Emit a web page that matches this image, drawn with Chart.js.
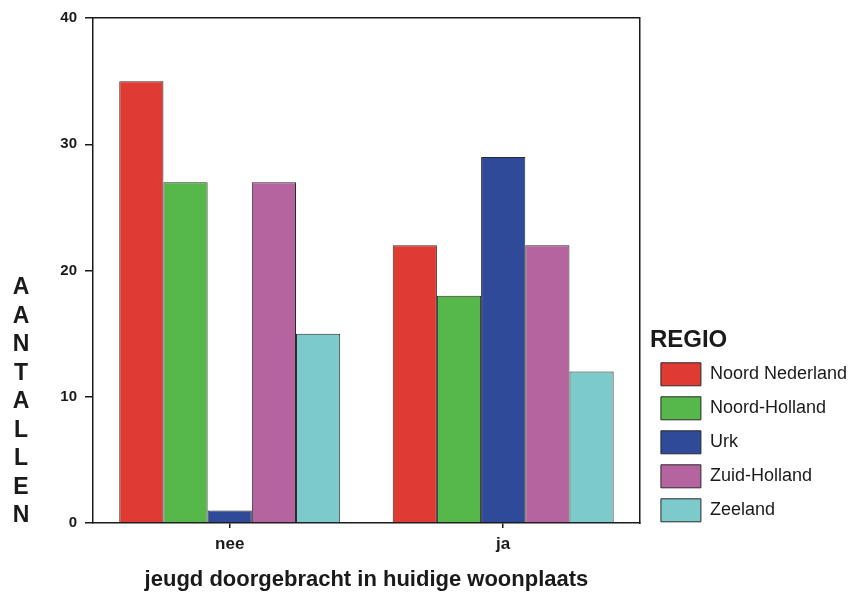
<!DOCTYPE html>
<html>
<head>
<meta charset="utf-8">
<script src="https://cdn.jsdelivr.net/npm/chart.js@4/dist/chart.umd.min.js"></script>
<style>
  html, body { margin: 0; padding: 0; background: #fff; }
  #wrap { width: 849px; height: 596px; position: relative; }
</style>
</head>
<body>
<div id="wrap"><canvas id="chart"></canvas></div>
<script>
  const categories = ['nee', 'ja'];
  const regions = ['Noord Nederland', 'Noord-Holland', 'Urk', 'Zuid-Holland', 'Zeeland'];
  const noordNederland = [35, 22];
  const noordHolland = [27, 18];
  const urk = [1, 29];
  const zuidHolland = [27, 22];
  const zeeland = [15, 12];
  const colors = ['#df3b32', '#56b84a', '#2e4a99', '#b6649f', '#7ccaca'];
  const yTitle = 'AANTALLEN';
  const xTitle = 'jeugd doorgebracht in huidige woonplaats';
  const legendTitle = 'REGIO';

  const FONT = '"Liberation Sans", Arial, sans-serif';
  const INK = '#1a1a1a';

  const series = [noordNederland, noordHolland, urk, zuidHolland, zeeland];
  const datasets = series.map((vals, i) => ({
    label: regions[i],
    data: vals,
    backgroundColor: colors[i],
    borderColor: '#2a2a2a',
    borderWidth: 1,
    categoryPercentage: 0.808,
    barPercentage: 1
  }));

  // stacked letters for the y title
  const stackedTitle = {
    id: 'stackedTitle',
    afterDraw(chart) {
      const ctx = chart.ctx;
      ctx.save();
      ctx.font = 'bold 23px ' + FONT;
      ctx.fillStyle = INK;
      ctx.textAlign = 'center';
      ctx.textBaseline = 'middle';
      [...yTitle].forEach((ch, i) => ctx.fillText(ch, 21, 288 + i * 28.5));
      ctx.restore();
    }
  };

  new Chart(document.getElementById('chart'), {
    type: 'bar',
    data: { labels: categories, datasets },
    options: {
      responsive: true,
      maintainAspectRatio: false,
      animation: false,
      layout: { padding: { top: 18, right: -8, bottom: 0, left: 0 } },
      scales: {
        x: {
          position: 'bottom',
          afterFit: s => { s.height = 73; },
          grid: { display: true, drawOnChartArea: false, offset: false, tickLength: 5, color: INK, lineWidth: 1.5 },
          border: { display: true, color: INK, width: 1.5 },
          ticks: { color: INK, padding: 6, font: { family: FONT, size: 17, weight: 'bold' } },
          title: { display: true, text: xTitle, color: INK, padding: { top: 0, bottom: 3 }, font: { family: FONT, size: 22, weight: 'bold' } }
        },
        x2: {
          position: 'top',
          afterFit: s => { s.height = 0; },
          grid: { display: false },
          border: { display: true, color: INK, width: 1.5 },
          ticks: { display: false }
        },
        y: {
          position: 'left',
          min: 0,
          max: 40,
          afterFit: s => { s.width = 93; },
          grid: { display: true, drawOnChartArea: false, tickLength: 8, color: INK, lineWidth: 1.5 },
          border: { display: true, color: INK, width: 1.5 },
          ticks: { stepSize: 10, color: INK, padding: 8, font: { family: FONT, size: 15, weight: 'bold' } }
        },
        y2: {
          position: 'right',
          min: 0,
          max: 40,
          afterFit: s => { s.width = 10; },
          grid: { display: false },
          border: { display: true, color: INK, width: 1.5 },
          ticks: { display: false }
        }
      },
      plugins: {
        tooltip: { enabled: false },
        legend: {
          position: 'right',
          align: 'start',
          fullSize: true,
          maxWidth: 260,
          title: {
            display: true,
            text: legendTitle,
            position: 'start',
            color: INK,
            padding: { top: 310, bottom: -5 },
            font: { family: FONT, size: 24, weight: 'bold' }
          },
          labels: {
            boxWidth: 40,
            boxHeight: 23,
            padding: 11,
            color: INK,
            font: { family: FONT, size: 18 }
          }
        }
      }
    },
    plugins: [stackedTitle]
  });
</script>
</body>
</html>
